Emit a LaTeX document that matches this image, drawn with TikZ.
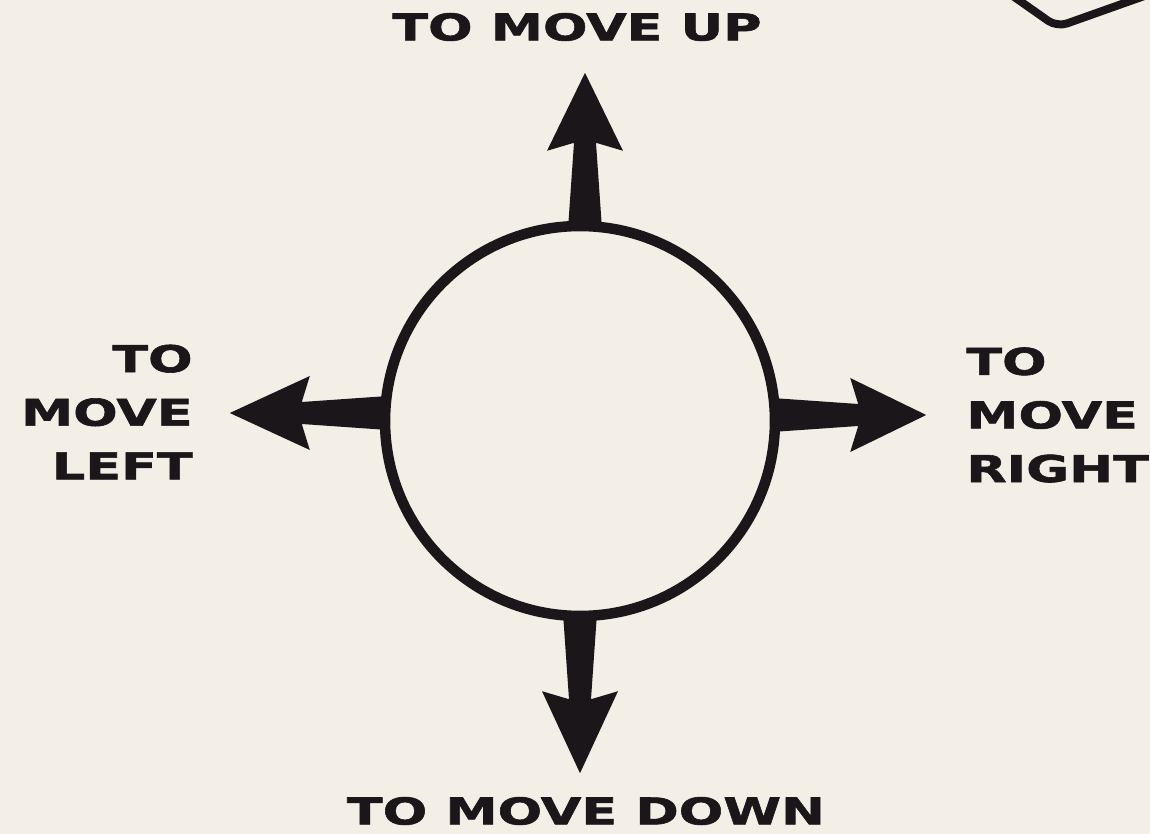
\documentclass[tikz,border=0pt]{standalone}
\usepackage{fontspec}
\newfontfamily\labelfont[FakeStretch=1.42,FakeBold=1.6]{DejaVu Sans Bold}
\usetikzlibrary{calc}
\definecolor{paper}{HTML}{F3EFE6}
\definecolor{ink}{HTML}{1B1619}
\begin{document}
\begin{tikzpicture}[x=0.02cm,y=-0.02cm,
  lbl/.style={font=\labelfont\fontsize{21}{30.5}\selectfont, text=ink, inner sep=0pt},
  ring/.style={circle, draw=ink, line width=0.21cm, minimum size=7.8cm, inner sep=0pt}]
\fill[paper] (0,0) rectangle (1150,834);
\useasboundingbox (0,0) rectangle (1150,834);
\node[ring] (c) at (580,421) {};
% up arrow
\coordinate (u) at ($(c.north)+(5,0)$);
\fill[ink] ($(u)+(-17,8)$) -- ($(u)+(-11,-78)$) -- ($(u)+(-38,-70)$) -- ($(u)+(0,-148)$)
  -- ($(u)+(38,-70)$) -- ($(u)+(11,-78)$) -- ($(u)+(17,8)$) -- cycle;
% down arrow
\coordinate (d) at ($(c.south)+(0,0)$);
\fill[ink] ($(d)+(-17,-8)$) -- ($(d)+(-11,78)$) -- ($(d)+(-38,70)$) -- ($(d)+(0,152)$)
  -- ($(d)+(38,70)$) -- ($(d)+(11,78)$) -- ($(d)+(17,-8)$) -- cycle;
% left arrow
\coordinate (l) at ($(c.west)+(0,-8)$);
\fill[ink] ($(l)+(8,-17)$) -- ($(l)+(-78,-11)$) -- ($(l)+(-70,-37)$) -- ($(l)+(-150,0)$)
  -- ($(l)+(-70,37)$) -- ($(l)+(-78,11)$) -- ($(l)+(8,17)$) -- cycle;
% right arrow
\coordinate (r) at ($(c.east)+(0,-6)$);
\fill[ink] ($(r)+(-8,-17)$) -- ($(r)+(78,-11)$) -- ($(r)+(70,-37)$) -- ($(r)+(146,0)$)
  -- ($(r)+(70,37)$) -- ($(r)+(78,11)$) -- ($(r)+(-8,17)$) -- cycle;
% labels
\node[lbl] (tup) at (577,27) {TO MOVE UP};
\node[lbl] (tdown) at (586,811) {TO MOVE DOWN};
\node[lbl, anchor=east, align=right] (tleft) at (193,412) {TO\\MOVE\\LEFT};
\node[lbl, anchor=west, align=left] (tright) at (966,415) {TO\\MOVE\\RIGHT};
% corner shape
\draw[ink, line width=0.16cm, rounded corners=6] (1010,-6) -- (1057,27) -- (1150,-6);
\end{tikzpicture}
\end{document}
